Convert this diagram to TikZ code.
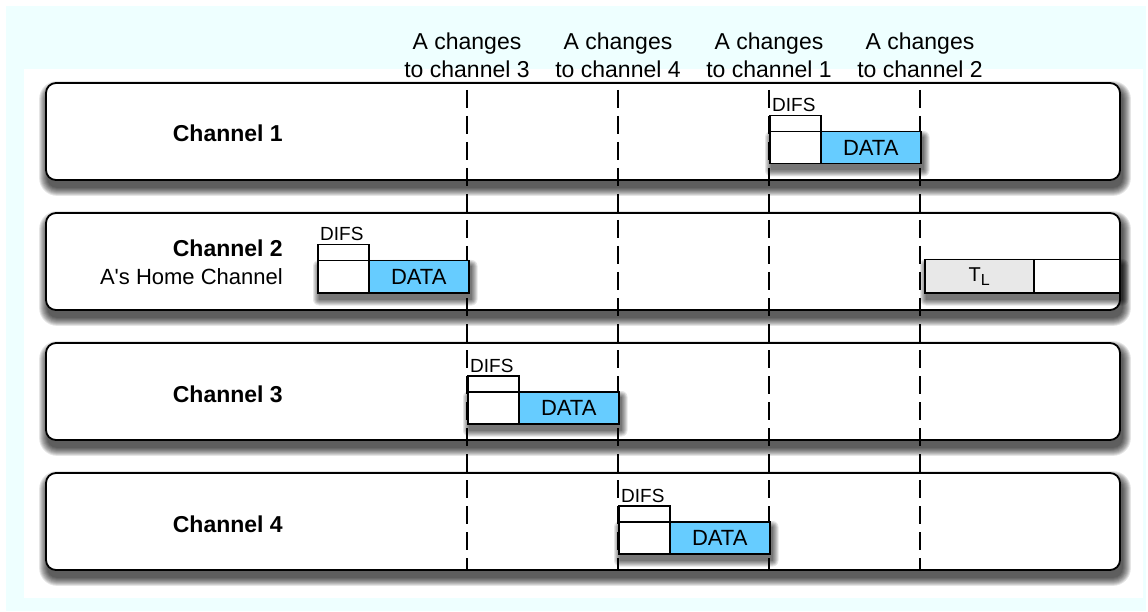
\documentclass[tikz,border=0pt]{standalone}
\usepackage{fontspec}
\setmainfont{Liberation Sans}[Ligatures=TeXOff]
\usetikzlibrary{calc}
\definecolor{bgcyan}{RGB}{238,255,255}
\definecolor{datablue}{RGB}{102,204,255}
\definecolor{tlgray}{RGB}{232,232,232}
\pgfdeclarelayer{back}
\pgfdeclarelayer{shad}
\pgfdeclarelayer{chans}
\pgfdeclarelayer{blkshad}
\pgfsetlayers{back,shad,chans,blkshad,main}
\newcommand\softshadow[6]{% layer, nw, se, radius, yshift, steps
  \begin{pgfonlayer}{#1}
  \foreach \k in {0,...,#6}{
    \pgfmathsetmacro\rr{#4+\k}
    \fill[black, opacity=0.1, rounded corners=\rr pt]
      ($(#2)+(2-\k,#5+\k)$) rectangle ($(#3)+(2+\k,#5-\k)$);
  }
  \end{pgfonlayer}}
\begin{document}
\begin{tikzpicture}[x=1pt,y=1pt,
  chan/.style={draw=black, line width=1.8pt, fill=white, rounded corners=10pt,
    minimum width=1074pt, minimum height=97pt, inner sep=0pt},
  chanlbl/.style={font=\fontsize{23}{27}\selectfont\bfseries, anchor=base east, inner sep=0pt},
  sublbl/.style={font=\fontsize{22}{26}\selectfont, anchor=base east, inner sep=0pt},
  hdr/.style={font=\fontsize{23}{28}\selectfont, align=center, inner sep=0pt},
  dashline/.style={line width=1.8pt, dash pattern=on 18pt off 8pt},
  difsbox/.style={draw=black, line width=1.5pt, fill=white, minimum width=51pt, minimum height=16pt, inner sep=0pt, anchor=north west},
  whitebox/.style={draw=black, line width=1.5pt, fill=white, minimum width=51pt, minimum height=32pt, inner sep=0pt, anchor=north west},
  databox/.style={draw=black, line width=1.5pt, fill=datablue, minimum width=100pt, minimum height=32pt, inner sep=0pt, anchor=north west,
    font=\fontsize{22}{24}\selectfont},
  difslbl/.style={font=\fontsize{19}{22}\selectfont, anchor=base west, inner sep=0pt},
]
\useasboundingbox (0,0) rectangle (1148,-612);
\begin{pgfonlayer}{back}
\fill[bgcyan] (6,-6) rectangle (1146,-611);
\fill[white] (24,-69) rectangle (1143,-598);
\end{pgfonlayer}

% channel boxes
\begin{pgfonlayer}{chans}
\node[chan] (c1) at (583,-131.5) {};
\node[chan] (c2) at (583,-261.5) {};
\node[chan] (c3) at (583,-391.5) {};
\node[chan] (c4) at (583,-521.5) {};
\end{pgfonlayer}
\foreach \c in {c1,c2,c3,c4}{\softshadow{shad}{\c.north west}{\c.south east}{10}{-7}{8}}

\node[chanlbl] (l1) at (283,-142) {Channel 1};
\node[chanlbl] (l2) at (283,-257) {Channel 2};
\node[sublbl] (l2b) at (283,-284) {A's Home Channel};
\node[chanlbl] (l3) at (283,-402) {Channel 3};
\node[chanlbl] (l4) at (283,-532) {Channel 4};

% header labels
\node[hdr] (h1) at (467,-55) {A changes\\to channel 3};
\node[hdr] (h2) at (618,-55) {A changes\\to channel 4};
\node[hdr] (h3) at (769,-55) {A changes\\to channel 1};
\node[hdr] (h4) at (920,-55) {A changes\\to channel 2};

% dashed lines
\foreach \i/\x in {1/467,2/618,3/769,4/920}{
  \coordinate (t\i) at (\x,-90);
  \coordinate (b\i) at (\x,-570);
  \draw[dashline] (t\i) -- (b\i);
}

% channel 2 blocks
\node[difsbox] (d2) at (317,-244) {};
\node[whitebox] (w2) at (317,-260) {};
\node[databox] (a2) at (368,-260) {DATA};
\node[difslbl] (f2) at ($(d2.north west)+(3,3)$) {DIFS};
\softshadow{blkshad}{w2.north west}{a2.south east}{0}{-6}{6}

% channel 1 blocks
\node[difsbox] (d1) at (769,-115) {};
\node[whitebox] (w1) at (769,-131) {};
\node[databox] (a1) at (820,-131) {DATA};
\node[difslbl] (f1) at ($(d1.north west)+(3,3)$) {DIFS};
\softshadow{blkshad}{w1.north west}{a1.south east}{0}{-6}{6}

% channel 3 blocks
\node[difsbox] (d3) at (467,-375) {};
\node[whitebox] (w3) at (467,-391) {};
\node[databox] (a3) at (518,-391) {DATA};
\node[difslbl] (f3) at ($(d3.north west)+(3,3)$) {DIFS};
\softshadow{blkshad}{w3.north west}{a3.south east}{0}{-6}{6}

% channel 4 blocks
\node[difsbox] (d4) at (618,-505) {};
\node[whitebox] (w4) at (618,-521) {};
\node[databox] (a4) at (669,-521) {DATA};
\node[difslbl] (f4) at ($(d4.north west)+(3,3)$) {DIFS};
\softshadow{blkshad}{w4.north west}{a4.south east}{0}{-6}{6}

% T_L blocks
\node[whitebox, fill=tlgray, minimum width=109pt, minimum height=33pt,
  font=\fontsize{20}{24}\selectfont] (tl) at (924,-259)
  {T\raisebox{-4pt}{\fontsize{16}{18}\selectfont L}};
\node[whitebox, minimum width=86pt, minimum height=33pt] (tr) at (1033,-259) {};
\softshadow{blkshad}{tl.north west}{tr.south east}{0}{-6}{6}
\end{tikzpicture}
\end{document}
